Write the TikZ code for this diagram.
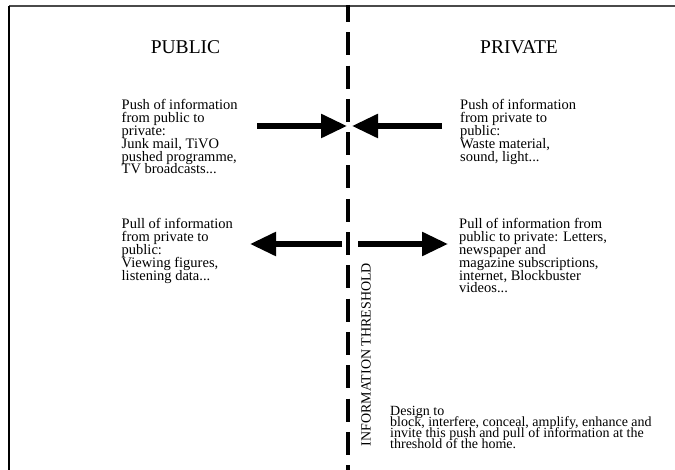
\documentclass[tikz,border=0pt]{standalone}
\usepackage{fontspec}
\setmainfont{Liberation Serif}
\usetikzlibrary{arrows.meta, positioning}
\definecolor{framegray}{HTML}{4A4A4A}
\newcommand\tightlines{\lineskiplimit=-100pt\relax}

\begin{document}
\begin{tikzpicture}[x=1pt, y=-1pt,
    flow/.style={line width=5.5pt, -{Triangle[length=26pt, width=23pt]}},
    note/.style={anchor=north west, inner sep=0pt, align=left,
                 font={\fontsize{14.5}{12.8}\selectfont\tightlines}},
    side/.style={anchor=base, inner sep=0pt, font=\fontsize{19.5}{22}\selectfont}
  ]
    \useasboundingbox (0,0) rectangle (675,470);
    \draw[framegray, line width=1.5pt] (9,6) -- (675,6);
    \draw[line width=1.2pt] (9,6) -- (9,470);

    % the threshold itself
    \coordinate (top) at (348,5);
    \coordinate (bottom) at (348,470);
    \draw[line width=4.5pt, dash pattern=on 23pt off 10.3pt, dash phase=6pt]
      (top) -- (bottom);
    \node[rotate=90, inner sep=0pt, font=\fontsize{14}{16}\selectfont]
      (threshold) at (366,354.5) {INFORMATION THRESHOLD};

    \node[side] (public) at (185.5,53.3) {PUBLIC};
    \node[side] (private) at (519,53.3) {PRIVATE};

    \node[note] (pushin) at (121.5,99.4)
      {Push of information\\from public to\\private:\\Junk mail, TiVO\\pushed programme,\\TV broadcasts...};
    \node[note] (pushout) at (460,99.4)
      {Push of information\\from private to\\public:\\Waste material,\\sound, light...};
    \node[note] (pullout) at (121.5,218.4)
      {Pull of information\\from private to\\public:\\Viewing figures,\\listening data...};
    \node[note] (pullin) at (459,218.4)
      {Pull of information from\\public to private: Letters,\\newspaper and\\magazine subscriptions,\\internet, Blockbuster\\videos...};
    \node[note, font={\fontsize{14}{11}\selectfont\tightlines}]
      (design) at (390,406.5)
      {Design to\\block, interfere, conceal, amplify, enhance and\\invite this push and pull of information at the\\threshold of the home.};

    % push arrows meet at the line
    \coordinate (pushinA) at (257,126);
    \coordinate (pushinB) at (347,126);
    \coordinate (pushoutA) at (442,126);
    \coordinate (pushoutB) at (352,126);
    \draw[flow] (pushinA) -- (pushinB);
    \draw[flow] (pushoutA) -- (pushoutB);

    % pull arrows leave the line
    \coordinate (pulloutA) at (342,244);
    \coordinate (pulloutB) at (250,244);
    \coordinate (pullinA) at (358,244);
    \coordinate (pullinB) at (448,244);
    \draw[flow] (pulloutA) -- (pulloutB);
    \draw[flow] (pullinA) -- (pullinB);
\end{tikzpicture}
\end{document}
